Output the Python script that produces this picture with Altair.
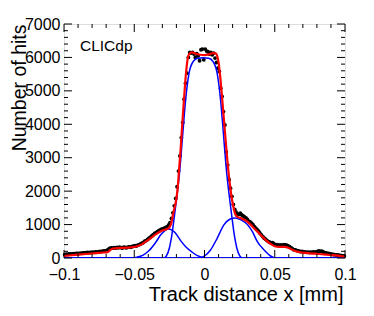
import altair as alt
import pandas as pd

# ---------------- data ----------------
bin_start = -0.0995
bin_width = 0.001
hits = [100, 115, 105, 120, 125, 115, 130, 125, 135, 140,
        130, 145, 140, 150, 155, 150, 165, 160, 170, 165,
        175, 170, 180, 185, 180, 195, 190, 205, 215, 210,
        230, 255, 285, 300, 295, 310, 300, 315, 305, 320,
        310, 300, 320, 315, 305, 325, 330, 320, 345, 350,
        365, 360, 385, 400, 420, 440, 465, 500, 520, 555,
        590, 620, 660, 700, 735, 760, 790, 815, 840, 860,
        880, 895, 915, 935, 990, 1060, 1180, 1350, 1560, 1780,
        2130, 2600, 3050, 3600, 4050, 4750, 5230, 5530, 6000, 6150,
        6130, 6150, 6100, 6000, 6110, 6050, 5900, 6230, 6250, 5930,
        6250, 6190, 6170, 6100, 6150, 6080, 6130, 5980, 5850, 5680,
        5580, 5080, 4830, 4380, 3980, 3170, 2780, 2340, 2090, 1840,
        1600, 1450, 1370, 1300, 1310, 1340, 1290, 1260, 1230, 1200,
        1150, 1100, 1080, 1040, 1000, 940, 890, 850, 800, 740,
        690, 640, 590, 560, 520, 490, 470, 450, 460, 420,
        390, 400, 385, 380, 390, 375, 395, 390, 380, 360,
        340, 310, 280, 250, 240, 230, 215, 205, 190, 195,
        180, 185, 170, 175, 165, 175, 170, 180, 175, 185,
        200, 210, 200, 205, 180, 160, 150, 140, 135, 120,
        115, 105, 100, 95, 90, 85, 75, 70, 65, 60]

fit_x = [-0.1, -0.09, -0.08, -0.072, -0.069, -0.067, -0.065, -0.06, -0.055, -0.05,
         -0.045, -0.04, -0.035, -0.03, -0.026, -0.024, -0.022, -0.02, -0.019, -0.018,
         -0.017, -0.016, -0.015, -0.014, -0.013, -0.012, -0.011, -0.009, -0.006, -0.003,
         0.0, 0.003, 0.006, 0.008, 0.009, 0.01, 0.011, 0.012, 0.013, 0.014,
         0.015, 0.016, 0.017, 0.018, 0.019, 0.02, 0.021, 0.022, 0.0235, 0.026,
         0.03, 0.033, 0.036, 0.04, 0.044, 0.047, 0.05, 0.053, 0.057, 0.06,
         0.063, 0.066, 0.07, 0.075, 0.08, 0.085, 0.09, 0.095, 0.1]
fit_y = [60, 100, 135, 165, 175, 240, 285, 300, 310, 330,
         400, 540, 700, 820, 880, 990, 1380, 1780, 2130, 2700,
         3250, 3900, 4500, 5100, 5600, 5950, 6100, 6150, 6110, 6080,
         6070, 6090, 6130, 6120, 6050, 5850, 5500, 5050, 4550, 4050,
         3550, 3050, 2600, 2230, 1900, 1650, 1450, 1300, 1230, 1190,
         1100, 990, 860, 690, 520, 420, 350, 330, 330, 300,
         240, 190, 160, 140, 125, 110, 90, 70, 40]

core_x = [-0.1, -0.029, -0.027, -0.025, -0.023, -0.0213, -0.0195, -0.0176, -0.0155, -0.0135,
          -0.011, -0.008, -0.005, -0.001, 0.003, 0.006, 0.009, 0.0115, 0.0135, 0.0156,
          0.0175, 0.0193, 0.021, 0.023, 0.025, 0.027, 0.1]
core_y = [0, 0, 70, 300, 750, 1300, 1900, 2630, 3700, 4700,
          5530, 5880, 5975, 5990, 5975, 5880, 5530, 4700, 3700, 2630,
          1900, 1300, 750, 300, 70, 0, 0]

left_x = [-0.1, -0.052, -0.048, -0.044, -0.040, -0.035, -0.031, -0.0257, -0.021, -0.017,
          -0.013, -0.009, -0.005, -0.001, 0.002, 0.1]
left_y = [0, 0, 25, 80, 200, 450, 700, 870, 760, 520,
          320, 180, 70, 15, 0, 0]

right_x = [-0.1, -0.003, 0.0, 0.0043, 0.009, 0.0138, 0.018, 0.022, 0.026, 0.0305,
           0.0341, 0.0376, 0.0424, 0.047, 0.051, 0.1]
right_y = [0, 0, 60, 240, 590, 990, 1160, 1200, 1140, 1000,
           790, 490, 240, 60, 0, 0]

base_x = [-0.1, 0.1]
base_y = [0, 0]

x_major = [-0.1, -0.05, 0.0, 0.05, 0.1]
x_minor = [-0.09, -0.08, -0.07, -0.06, -0.04, -0.03, -0.02, -0.01,
           0.01, 0.02, 0.03, 0.04, 0.06, 0.07, 0.08, 0.09]
y_major = [0, 1000, 2000, 3000, 4000, 5000, 6000, 7000]
y_minor = [v for v in range(200, 7000, 200) if v % 1000 != 0]

label_text = ["CLICdp"]
x_title = "Track distance x [mm]"
y_title = "Number of hits"

# ---------------- tables ----------------
df_hits = pd.DataFrame({"x": [bin_start + bin_width * i for i in range(len(hits))], "y": hits})
df_fit = pd.DataFrame({"x": fit_x, "y": fit_y})
df_comp = pd.concat([
    pd.DataFrame({"x": core_x, "y": core_y, "c": "core"}),
    pd.DataFrame({"x": left_x, "y": left_y, "c": "left"}),
    pd.DataFrame({"x": right_x, "y": right_y, "c": "right"}),
    pd.DataFrame({"x": base_x, "y": base_y, "c": "base"}),
])

W, H = 281, 234
FONT = "Liberation Sans"
xs = alt.Scale(domain=[-0.1, 0.1], nice=False, zero=False)
ys = alt.Scale(domain=[0, 7000], nice=False, zero=False)

x_axis = alt.Axis(values=x_major, format="~g", title=x_title, grid=False, ticks=False, tickSize=0,
                  domain=False, labelFont=FONT, labelFontSize=16, labelColor="black",
                  labelPadding=8, labelFlush=False, labelOverlap=False, labelBound=False,
                  titleFont=FONT, titleFontSize=20, titleFontWeight="normal", titleColor="black",
                  titleAlign="right", titleX=W - 2, titleY=42, titleBaseline="alphabetic")
y_axis = alt.Axis(values=y_major, format="d", title=y_title, grid=False, ticks=False, tickSize=0,
                  domain=False, labelFont=FONT, labelFontSize=16, labelColor="black",
                  labelPadding=4, labelFlush=False, labelOverlap=False, labelBound=False,
                  titleFont=FONT, titleFontSize=19.5, titleFontWeight="normal", titleColor="black",
                  titleAngle=270, titleAlign="right", titleBaseline="top", titleX=-54, titleY=0)

X = alt.X("x:Q", scale=xs, axis=x_axis, title=x_title)
Y = alt.Y("y:Q", scale=ys, axis=y_axis, title=y_title)

points = alt.Chart(df_hits).mark_circle(size=15, color="black", opacity=1).encode(x=X, y=Y)

blue = alt.Chart(df_comp).mark_line(color="#0000ff", strokeWidth=1.5, interpolate="monotone", clip=True).encode(
    x=X, y=Y, detail="c:N")

red = alt.Chart(df_fit).mark_line(color="#ff0000", strokeWidth=2.2, interpolate="monotone", clip=True).encode(
    x=X, y=Y)

def xticks(vals, L):
    d = pd.DataFrame({"x": vals})
    bot = alt.Chart(d).mark_rule(color="black", strokeWidth=1).encode(
        x=X, y=alt.value(H), y2=alt.value(H - L))
    top = alt.Chart(d).mark_rule(color="black", strokeWidth=1).encode(
        x=X, y=alt.value(0), y2=alt.value(L))
    return [bot, top]

def yticks(vals, L):
    d = pd.DataFrame({"y": vals})
    lef = alt.Chart(d).mark_rule(color="black", strokeWidth=1).encode(
        y=Y, x=alt.value(0), x2=alt.value(L))
    rig = alt.Chart(d).mark_rule(color="black", strokeWidth=1).encode(
        y=Y, x=alt.value(W), x2=alt.value(W - L))
    return [lef, rig]

label = alt.Chart(pd.DataFrame({"t": label_text})).mark_text(
    font=FONT, fontSize=15.5, align="left", baseline="alphabetic", color="black").encode(
    text="t:N", x=alt.value(16), y=alt.value(27))

layers = [points, blue, red] + xticks(x_major, 8) + xticks(x_minor, 4) + yticks(y_major, 8) + yticks(y_minor, 4) + [label]

chart = alt.layer(*layers).properties(
    width=W, height=H,
    autosize=alt.AutoSizeParams(type="none"),
    padding={"left": 56, "top": 16, "right": 21, "bottom": 50},
).configure_view(stroke="black", strokeWidth=1).configure(background="white")

chart.save("out.html", embed_options={"renderer": "svg", "actions": False})
